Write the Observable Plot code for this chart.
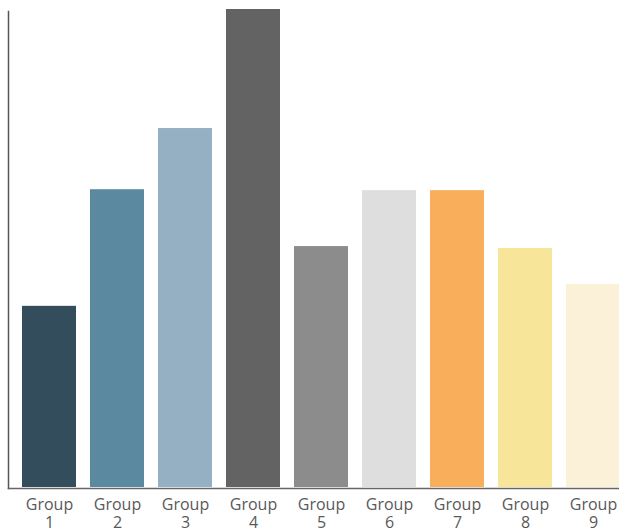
<!DOCTYPE html>
<html><head><meta charset="utf-8">
<script src="https://cdn.jsdelivr.net/npm/d3@7"></script>
<script src="https://cdn.jsdelivr.net/npm/@observablehq/plot@0.6"></script>
<style>body{margin:0;background:#fff}</style>
</head><body><div id="chart"></div>
<script>
const groups = ["Group 1","Group 2","Group 3","Group 4","Group 5","Group 6","Group 7","Group 8","Group 9"];
const values = [3.79, 6.23, 7.51, 10, 5.04, 6.21, 6.21, 5.0, 4.25];
const colors = ["#344d5c","#5b89a0","#96b0c3","#636363","#8c8c8c","#dedede","#f9ae5b","#f7e59a","#faf1d8"];
const data = groups.map((g,i)=>({group:g, value:values[i]}));
const chart = Plot.plot({
  width: 619, height: 531,
  marginTop: 11, marginBottom: 43, marginLeft: 8, marginRight: 0,
  style: {fontFamily: "'Open Sans', sans-serif", fontSize: "16px", color: "#595959", background: "#fff"},
  x: {domain: groups, range: [8, 635], paddingInner: 0.2, paddingOuter: 0.2, label: null},
  y: {domain: [0, 10], range: [487, 9], axis: null},
  color: {domain: groups, range: colors},
  marks: [
    Plot.barY(data, {x: "group", y: "value", fill: "group"}),
    Plot.frame({anchor: "left", stroke: "#555", strokeWidth: 1.5}),
    Plot.frame({anchor: "bottom", stroke: "#666", strokeWidth: 1.5}),
    Plot.axisX({tickSize: 0, tickPadding: 8, fontSize: 16, fill: "#595959", lineHeight: 1.15,
      tickFormat: d => d.replace(" ", "\n"), label: null})
  ]
});
document.getElementById("chart").append(chart);
</script></body></html>
